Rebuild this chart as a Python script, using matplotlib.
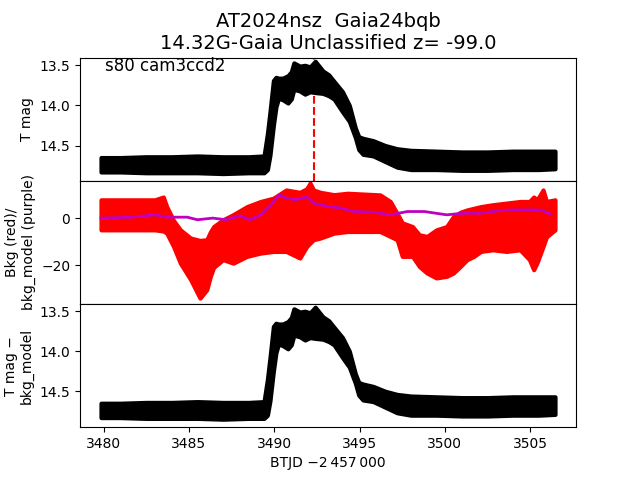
import matplotlib
matplotlib.use("Agg")
import matplotlib.pyplot as plt
import numpy as np

# Light curve envelope (T mag): time, bright edge, faint edge
lc_t = [3479.85, 3481.0, 3482.5, 3484.0, 3485.5, 3487.0, 3488.5, 3489.4, 3489.6,
        3489.75, 3489.95, 3490.1, 3490.25, 3490.5, 3490.8, 3491.0, 3491.15, 3491.5,
        3491.8, 3492.1, 3492.4, 3492.85, 3493.2, 3493.5, 3494.0, 3494.4, 3494.75,
        3494.95, 3495.2, 3495.8, 3496.5, 3497.2, 3498.0, 3499.5, 3501.0, 3502.5,
        3504.0, 3505.5, 3506.45]
lc_top = [14.65, 14.65, 14.64, 14.64, 14.63, 14.64, 14.64, 14.63, 14.35,
          14.08, 13.69, 13.65, 13.66, 13.66, 13.63, 13.58, 13.47, 13.51,
          13.50, 13.52, 13.45, 13.57, 13.62, 13.70, 13.83, 14.00, 14.28,
          14.39, 14.41, 14.44, 14.50, 14.54, 14.56, 14.57, 14.58, 14.58,
          14.57, 14.57, 14.57]
lc_bot = [14.83, 14.83, 14.84, 14.84, 14.84, 14.85, 14.84, 14.84, 14.80,
          14.62, 14.25, 14.02, 13.91, 13.93, 13.97, 13.92, 13.80, 13.82,
          13.86, 13.83, 13.84, 13.85, 13.88, 13.92, 14.08, 14.20, 14.40,
          14.55, 14.61, 14.63, 14.70, 14.77, 14.80, 14.80, 14.81, 14.81,
          14.80, 14.80, 14.79]

# Background envelope (red)
bkg_t = [3479.85, 3483.0, 3483.5, 3483.7, 3484.1, 3484.5, 3485.1, 3485.65, 3486.05,
         3486.25, 3486.45, 3487.0, 3487.6, 3488.4, 3489.2, 3489.95, 3490.7, 3491.5,
         3491.9, 3492.1, 3492.3, 3492.7, 3493.5, 3494.3, 3496.2, 3496.8, 3497.2,
         3497.5, 3498.1, 3498.5, 3498.95, 3499.5, 3500.1, 3500.5, 3500.9, 3501.3,
         3501.7, 3502.1, 3502.8, 3503.6, 3504.4, 3504.95, 3505.2, 3505.4, 3505.75,
         3505.95, 3506.45]
bkg_top = [7.8, 7.8, 9.0, 4.9, -1.0, -5.0, -8.5, -9.5, -9.2,
           -6.0, -3.6, -0.7, 1.5, 4.9, 7.1, 8.5, 12.0, 11.0,
           12.5, 14.9, 12.0, 11.0, 10.0, 10.6, 9.9, 7.1, 2.0,
           -2.0, -3.6, -7.1, -7.8, -5.0, -3.6, 0.7, 2.5, 3.5,
           4.2, 4.9, 5.7, 6.4, 7.1, 7.1, 9.0, 7.8, 12.0,
           7.1, 7.8]
bkg_bot = [-5.0, -5.0, -5.5, -6.4, -12.1, -19.2, -26.2, -34.1, -30.5,
           -25.0, -21.0, -17.7, -19.2, -16.3, -14.9, -14.2, -14.2, -17.0,
           -12.1, -10.6, -9.2, -8.5, -6.4, -5.7, -5.7, -7.8, -9.2,
           -16.3, -16.3, -20.6, -23.4, -25.5, -24.8, -23.4, -20.6, -17.7,
           -16.3, -14.2, -13.5, -14.2, -13.5, -17.7, -22.0, -19.0, -12.1,
           -8.0, -5.0]

# Background model (purple)
mod_t = [3479.85, 3481.6, 3483.0, 3483.7, 3484.9, 3485.5, 3486.4, 3487.2, 3488.0,
         3488.6, 3489.2, 3489.8, 3490.3, 3490.7, 3491.3, 3491.9, 3492.3, 3493.1,
         3493.9, 3494.7, 3495.9, 3496.8, 3497.8, 3498.8, 3500.1, 3501.1, 3502.1,
         3503.2, 3504.0, 3505.6, 3506.2]
mod_v = [0.0, 0.4, 1.4, 0.4, 0.4, -0.7, 0.0, -0.7, 1.0,
         -0.7, 1.4, 5.7, 9.9, 8.5, 7.8, 9.2, 6.4, 5.0,
         4.3, 2.8, 2.5, 1.4, 2.8, 2.8, 1.4, 2.1, 2.1,
         3.2, 3.5, 3.5, 1.7]

t_event = 3492.33
title = "AT2024nsz  Gaia24bqb\n14.32G-Gaia Unclassified z= -99.0"
label = "s80 cam3ccd2"

fig, axes = plt.subplots(3, 1, sharex=True, figsize=(6.4, 4.8), dpi=100)
plt.subplots_adjust(hspace=0)
ax1, ax2, ax3 = axes

def band(ax, t, lo, hi, color):
    ax.fill_between(t, lo, hi, facecolor=color, edgecolor=color, lw=3,
                    joinstyle='round', zorder=2)

ax1.axvline(t_event, color='r', ls='--', lw=1.5, zorder=1)
band(ax1, lc_t, lc_top, lc_bot, 'k')
ax1.set_ylim(14.94, 13.404)
ax1.set_yticks([13.5, 14.0, 14.5])
ax1.set_ylabel("T mag")
ax1.text(0.05, 0.93, label, transform=ax1.transAxes, fontsize=12, va='center')
ax1.set_title(title, fontsize=14)

band(ax2, bkg_t, bkg_bot, bkg_top, 'r')
ax2.plot(mod_t, mod_v, color='m', lw=2, zorder=3)
ax2.set_ylim(-36.6, 15.9)
ax2.set_yticks([0, -20])
ax2.set_ylabel("Bkg (red)/\nbkg_model (purple)")

band(ax3, lc_t, lc_top, lc_bot, 'k')
ax3.set_ylim(14.95, 13.41)
ax3.set_yticks([13.5, 14.0, 14.5])
ax3.set_ylabel("T mag \u2212\nbkg_model")

ax3.set_xlim(3478.62, 3507.68)
ax3.set_xticks([3480, 3485, 3490, 3495, 3500, 3505])
ax3.set_xlabel("BTJD \u22122\u2009457\u2009000")

fig.savefig("out.png", dpi=100)
